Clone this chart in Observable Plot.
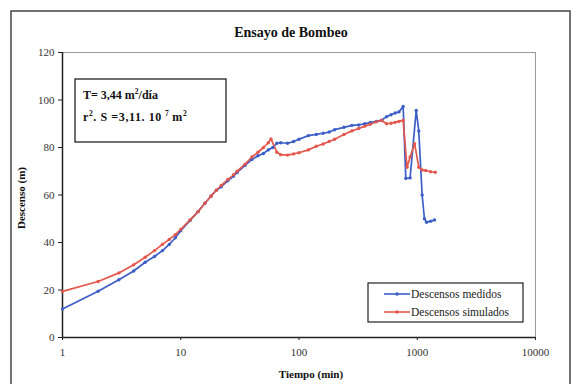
<!DOCTYPE html>
<html>
<head>
<meta charset="utf-8">
<script src="https://cdn.jsdelivr.net/npm/d3@7"></script>
<script src="https://cdn.jsdelivr.net/npm/@observablehq/plot@0.6"></script>
<style>
  html, body { margin: 0; padding: 0; background: #fff; }
  #chart { width: 577px; height: 384px; }
  #chart svg, #chart svg text { font-family: "Liberation Serif", "Times New Roman", serif !important; }
</style>
</head>
<body>
<div id="chart"></div>
<script>
// ---- Data ----
const tiemposMedidos = [1,2,3,4,5,6,7,8,9,10,12,14,16,18,20,22,25,28,30,35,40,45,50,55,60,65,70,80,90,100,120,140,160,180,200,240,280,320,360,400,450,500,550,600,650,700,760,800,870,980,1030,1100,1150,1200,1300,1400];
const descensosMedidos = [12,19.5,24.3,28,31.7,34.1,36.6,39.2,42,45,49.3,53,56.5,59.5,62,63.5,66,68,69.5,72.5,75,76.5,77.5,79,80,81.8,82,81.8,82.5,83.5,85,85.5,86,86.5,87.5,88.5,89.3,89.5,90,90.5,91,91.5,93,93.8,94.5,95,97.3,67,67.2,95.6,87,60,50,48.5,49,49.5];

const tiemposSimulados = [1,2,3,4,5,6,7,8,9,10,12,14,16,18,20,22,25,28,30,35,40,45,50,55,58,65,70,80,90,100,120,140,160,180,200,240,280,320,360,400,450,500,550,600,650,700,760,820,870,950,1030,1100,1180,1300,1420];
const descensosSimulados = [19.4,23.6,27.2,30.6,33.8,36.6,39.2,41.3,43.3,45.5,49.5,53,56.5,59.5,62,64,66.5,68.5,70,73,76,78,80,82,83.6,78,77,76.8,77.3,77.8,79,80.5,81.5,82.5,83.5,85.5,87,88,89,89.8,90.8,91.4,90,90.2,90.6,91,91.4,71.7,76,81.6,71.7,70.5,70.3,69.8,69.6];

const xTicks = [1, 10, 100, 1000, 10000];
const yTicks = [0, 20, 40, 60, 80, 100, 120];
const seriesNames = ["Descensos medidos", "Descensos simulados"];
const seriesColors = ["#3b5fc6", "#e4574c"];
const title = "Ensayo de Bombeo";
const xLabel = "Tiempo (min)";
const yLabel = "Descenso (m)";

// ---- Build table ----
const rows = [];
tiemposMedidos.forEach((t, i) => rows.push({serie: seriesNames[0], t, d: descensosMedidos[i]}));
tiemposSimulados.forEach((t, i) => rows.push({serie: seriesNames[1], t, d: descensosSimulados[i]}));

const font = "Liberation Serif, Times New Roman, serif";

const plot = Plot.plot({
  width: 577,
  height: 384,
  marginLeft: 62,
  marginRight: 42,
  marginTop: 52,
  marginBottom: 47,
  style: {fontFamily: font, fontSize: "11px", background: "white", color: "#222"},
  x: {type: "log", domain: [1, 10000]},
  y: {domain: [0, 120]},
  color: {domain: seriesNames, range: seriesColors},
  marks: [
    Plot.frame({stroke: "#9a9a9a", strokeWidth: 1}),
    Plot.axisX({ticks: xTicks, tickFormat: d => String(d), tickSize: 3, tickPadding: 8, label: null, fontSize: 11, fill: "#333"}),
    Plot.axisY({ticks: yTicks, tickSize: 4, tickPadding: 4, label: null, fontSize: 11, fill: "#333"}),
    Plot.ruleY([0], {stroke: "#222", strokeWidth: 1.5}),
    Plot.ruleX([1], {stroke: "#222", strokeWidth: 1.5}),
    Plot.line(rows, {x: "t", y: "d", stroke: "serie", z: "serie", strokeWidth: 1.7}),
    Plot.dot(rows, {x: "t", y: "d", fill: "serie", r: 1.7, stroke: null})
  ]
});

document.getElementById("chart").appendChild(plot);

// ---- Decorations: outer frame, title, axis labels, annotation, legend ----
const svg = d3.select(plot);

svg.insert("rect", ":first-child")
  .attr("x", 11).attr("y", 11).attr("width", 559).attr("height", 380)
  .attr("fill", "white").attr("stroke", "#444").attr("stroke-width", 1.5);

function txt(x, y, opts = {}) {
  return svg.append("text")
    .attr("x", x).attr("y", y)
    .style("text-anchor", opts.anchor || "start")
    .style("font-family", font)
    .style("font-weight", opts.bold ? "bold" : "normal")
    .style("font-size", (opts.size || 10) + "px")
    .style("fill", opts.fill || "#111");
}

txt(291, 37, {anchor: "middle", bold: true, size: 14}).text(title);
txt(311, 378, {anchor: "middle", bold: true, size: 11}).text(xLabel);
txt(0, 0, {anchor: "middle", bold: true, size: 11})
  .attr("transform", "translate(25,198) rotate(-90)")
  .text(yLabel);

// annotation box
svg.append("rect")
  .attr("x", 75).attr("y", 79).attr("width", 151).attr("height", 63)
  .attr("fill", "white").attr("stroke", "#222").attr("stroke-width", 1.3);

const t1 = txt(83, 99, {bold: true, size: 12});
t1.append("tspan").text("T= 3,44 m");
t1.append("tspan").attr("dy", -5).style("font-size", "7.5px").text("2");
t1.append("tspan").attr("dy", 5).text("/día");

const t2 = txt(83, 121, {bold: true, size: 12}).style("letter-spacing", "0.6px");
t2.append("tspan").text("r");
t2.append("tspan").attr("dy", -5).style("font-size", "7.5px").text("2");
t2.append("tspan").attr("dy", 5).text(". S =3,11. 10");
t2.append("tspan").attr("dy", -5).attr("dx", 3).style("font-size", "7.5px").text("7");
t2.append("tspan").attr("dy", 5).attr("dx", 3).text("m");
t2.append("tspan").attr("dy", -5).style("font-size", "7.5px").text("2");

// legend box
svg.append("rect")
  .attr("x", 368).attr("y", 283).attr("width", 155).attr("height", 39)
  .attr("fill", "white").attr("stroke", "#222").attr("stroke-width", 1.2);

seriesNames.forEach((name, i) => {
  const y = 294 + i * 18;
  svg.append("line")
    .attr("x1", 384).attr("x2", 410).attr("y1", y).attr("y2", y)
    .attr("stroke", seriesColors[i]).attr("stroke-width", 1.6);
  svg.append("circle")
    .attr("cx", 397).attr("cy", y).attr("r", 1.8)
    .attr("fill", seriesColors[i]);
  txt(411, y + 4, {size: 11.5, fill: "#222"}).text(name);
});
</script>
</body>
</html>
